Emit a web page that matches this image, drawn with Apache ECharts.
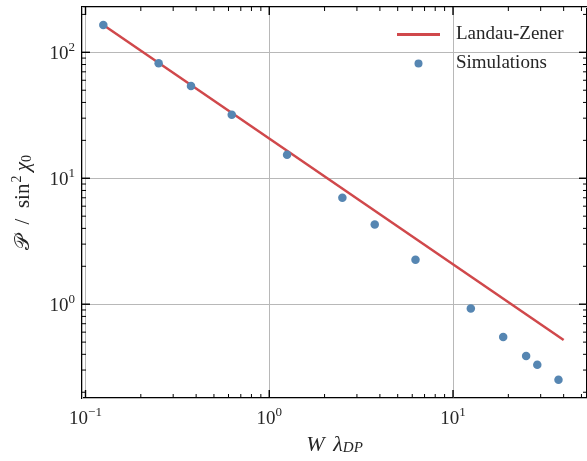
<!DOCTYPE html>
<html>
<head>
<meta charset="utf-8">
<script src="https://cdn.jsdelivr.net/npm/echarts@6/dist/echarts.min.js"></script>
<style>
html,body{margin:0;padding:0;background:#fff;}
#chart{width:587px;height:461px;}
</style>
</head>
<body>
<div id="chart"></div>
<script>
// ---- data ----
const simX = [0.125, 0.25, 0.375, 0.625, 1.25, 2.5, 3.75, 6.25, 12.5, 18.75, 25, 28.75, 37.5];
const simY = [165, 82, 54, 32, 15.4, 7.0, 4.3, 2.25, 0.925, 0.55, 0.388, 0.331, 0.251];
const lzX = [0.125, 40];
const lzY = [165, 0.52];
const xMajorTicks = [0.1, 1, 10];
const yMajorTicks = [1, 10, 100];
const minorMultipliers = [2, 3, 4, 5, 6, 7, 8, 9];
const xDecades = [0.1, 1, 10];
const yDecades = [0.1, 1, 10, 100];

const X_MIN = 0.0957, X_MAX = 53.6;
const Y_MIN = 0.18, Y_MAX = 229;

const FONT = '"Liberation Serif", "DejaVu Serif", serif';
const TXT = '#262626';
const RED = '#d0484b';
const BLUE = '#5686b2';

function minorOf(decades, lo, hi) {
  const out = [];
  decades.forEach(d => minorMultipliers.forEach(m => {
    const v = d * m;
    if (v > lo && v < hi) out.push(v);
  }));
  return out;
}
const xTickData = xMajorTicks.map(v => [v, Y_MIN, 1]).concat(minorOf(xDecades, X_MIN, X_MAX).map(v => [v, Y_MIN, 0]));
const yTickData = yMajorTicks.map(v => [X_MIN, v, 1]).concat(minorOf(yDecades, Y_MIN, Y_MAX).map(v => [X_MIN, v, 0]));

function powLabel(v) {
  const e = Math.round(Math.log10(v));
  const s = e < 0 ? '\u2212' + (-e) : String(e);
  return '{b|10}{s|' + s + '}';
}
const labelRich = {
  b: { fontFamily: FONT, fontSize: 19, color: TXT, verticalAlign: 'bottom', lineHeight: 23 },
  s: { fontFamily: FONT, fontSize: 13, color: TXT, verticalAlign: 'top', lineHeight: 23 }
};

const chart = echarts.init(document.getElementById('chart'), null, { renderer: 'canvas' });

function tickRender(isX) {
  return function (params, api) {
    const v = isX ? api.value(0) : api.value(1);
    const major = api.value(2) === 1;
    const len = major ? 8 : 4;
    const lw = major ? 1.4 : 1;
    const style = { stroke: '#000', lineWidth: lw };
    if (isX) {
      const b = api.coord([v, Y_MIN]);
      const t = api.coord([v, Y_MAX]);
      return { type: 'group', children: [
        { type: 'line', shape: { x1: b[0], y1: b[1], x2: b[0], y2: b[1] - len }, style },
        { type: 'line', shape: { x1: t[0], y1: t[1], x2: t[0], y2: t[1] + len }, style }
      ]};
    } else {
      const l = api.coord([X_MIN, v]);
      const r = api.coord([X_MAX, v]);
      return { type: 'group', children: [
        { type: 'line', shape: { x1: l[0], y1: l[1], x2: l[0] + len, y2: l[1] }, style },
        { type: 'line', shape: { x1: r[0], y1: r[1], x2: r[0] - len, y2: r[1] }, style }
      ]};
    }
  };
}

const option = {
  backgroundColor: '#fff',
  animation: false,
  grid: { left: 82, top: 7, right: -2, bottom: 58, show: true, borderColor: '#000', borderWidth: 2, backgroundColor: 'transparent' },
  xAxis: {
    type: 'log', logBase: 10, min: X_MIN, max: X_MAX,
    axisLine: { show: false }, axisTick: { show: false },
    splitLine: { show: true, lineStyle: { color: '#b8b8b8', width: 1 } },
    axisLabel: { margin: 8, showMinLabel: false, showMaxLabel: false, formatter: powLabel, rich: labelRich },
    name: '{i|W\u2009\u2009\u03bb}{sub|DP}', nameLocation: 'middle', nameGap: 34,
    nameTextStyle: { rich: {
      i: { fontFamily: FONT, fontStyle: 'italic', fontSize: 22, color: TXT, verticalAlign: 'bottom', lineHeight: 24 },
      sub: { fontFamily: FONT, fontStyle: 'italic', fontSize: 15, color: TXT, verticalAlign: 'bottom', lineHeight: 20 }
    } }
  },
  yAxis: {
    type: 'log', logBase: 10, min: Y_MIN, max: Y_MAX,
    axisLine: { show: false }, axisTick: { show: false },
    splitLine: { show: true, lineStyle: { color: '#b8b8b8', width: 1 } },
    axisLabel: { margin: 7, showMinLabel: false, showMaxLabel: false, formatter: powLabel, rich: labelRich },
    name: '{p|\ud835\udcab\u2002}{n|/\u2002sin}{s|2}{i|\u2009\u03c7}{sub|0}', nameLocation: 'middle', nameGap: 48, nameRotate: 90,
    nameTextStyle: { rich: {
      p: { fontFamily: FONT, fontSize: 21, color: TXT, verticalAlign: 'bottom', lineHeight: 24 },
      n: { fontFamily: FONT, fontSize: 21, color: TXT, verticalAlign: 'bottom', lineHeight: 24 },
      s: { fontFamily: FONT, fontSize: 14, color: TXT, verticalAlign: 'top', lineHeight: 24, padding: [0, 0, 0, 1] },
      i: { fontFamily: FONT, fontStyle: 'italic', fontSize: 21, color: TXT, verticalAlign: 'bottom', lineHeight: 24 },
      sub: { fontFamily: FONT, fontSize: 14, color: TXT, verticalAlign: 'bottom', lineHeight: 20 }
    } }
  },
  legend: {
    data: [
      { name: 'Landau-Zener', icon: 'path://M0,0L43,0L43,3L0,3Z', itemStyle: { color: RED } },
      { name: 'Simulations', icon: 'circle' }
    ],
    orient: 'vertical', left: 392, top: 20,
    itemWidth: 43, itemHeight: 8, itemGap: 10,
    textStyle: { fontFamily: FONT, fontSize: 19, color: TXT, padding: [0, 0, 0, 11] }
  },
  series: [
    {
      name: 'Landau-Zener', type: 'line', data: lzX.map((x, i) => [x, lzY[i]]),
      symbol: 'none', lineStyle: { color: RED, width: 2.5 }, itemStyle: { color: RED }, z: 3
    },
    {
      name: 'Simulations', type: 'scatter', data: simX.map((x, i) => [x, simY[i]]),
      symbolSize: 8.5, itemStyle: { color: BLUE, opacity: 1 }, z: 4
    },
    { type: 'custom', name: 'xticks', data: xTickData, encode: { x: 0, y: 1 }, renderItem: tickRender(true), silent: true, z: 5 },
    { type: 'custom', name: 'yticks', data: yTickData, encode: { x: 0, y: 1 }, renderItem: tickRender(false), silent: true, z: 5 }
  ]
};
chart.setOption(option);
</script>
</body>
</html>
